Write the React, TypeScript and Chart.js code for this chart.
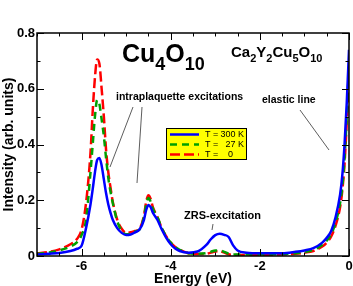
import React, { useEffect, useRef } from 'react';
import { Chart, registerables } from 'chart.js';
Chart.register(...registerables);

const energy = [-7, -6.75, -6.5, -6.25, -6.1, -6.0, -5.9, -5.8, -5.75, -5.7, -5.65, -5.6, -5.55, -5.5, -5.45, -5.4, -5.35, -5.3, -5.2, -5.1, -5.0, -4.9, -4.8, -4.7, -4.6, -4.55, -4.5, -4.45, -4.4, -4.3, -4.2, -4.1, -4.0, -3.9, -3.8, -3.6, -3.4, -3.2, -3.1, -3.0, -2.9, -2.8, -2.7, -2.6, -2.5, -2.3, -2.0, -1.5, -1.2, -1.0, -0.8, -0.6, -0.5, -0.4, -0.3, -0.2, -0.15, -0.1, -0.05, 0];

const t300 = [0.005, 0.008, 0.011, 0.018, 0.026, 0.037, 0.1, 0.185, 0.24, 0.3, 0.345, 0.352, 0.325, 0.275, 0.225, 0.185, 0.155, 0.13, 0.1, 0.083, 0.075, 0.077, 0.085, 0.095, 0.13, 0.165, 0.183, 0.175, 0.155, 0.13, 0.095, 0.065, 0.042, 0.027, 0.018, 0.012, 0.016, 0.04, 0.06, 0.075, 0.08, 0.076, 0.068, 0.038, 0.02, 0.012, 0.01, 0.01, 0.015, 0.02, 0.028, 0.048, 0.065, 0.09, 0.14, 0.22, 0.29, 0.4, 0.55, 0.74];

const t27 = [0.008, 0.012, 0.02, 0.034, 0.05, 0.075, 0.13, 0.3, 0.4, 0.5, 0.56, 0.545, 0.49, 0.43, 0.35, 0.28, 0.23, 0.19, 0.125, 0.09, 0.078, 0.08, 0.088, 0.095, 0.14, 0.185, 0.208, 0.195, 0.17, 0.14, 0.1, 0.07, 0.048, 0.032, 0.022, 0.01, 0.008, 0.01, 0.015, 0.02, 0.02, 0.015, 0.008, 0.005, 0.005, 0.005, 0.005, 0.007, 0.01, 0.014, 0.022, 0.04, 0.055, 0.078, 0.12, 0.19, 0.25, 0.35, 0.5, 0.68];

const t0 = [0.01, 0.014, 0.024, 0.042, 0.062, 0.095, 0.19, 0.37, 0.52, 0.64, 0.705, 0.69, 0.6, 0.5, 0.38, 0.3, 0.245, 0.195, 0.13, 0.098, 0.083, 0.085, 0.09, 0.098, 0.145, 0.195, 0.218, 0.205, 0.175, 0.14, 0.1, 0.07, 0.048, 0.032, 0.022, 0.01, 0.007, 0.008, 0.012, 0.016, 0.017, 0.012, 0.006, 0.004, 0.004, 0.004, 0.004, 0.006, 0.008, 0.012, 0.018, 0.034, 0.048, 0.07, 0.11, 0.175, 0.235, 0.33, 0.48, 0.66];

const seriesLabels = ['T = 300 K', 'T =   27 K', 'T =    0'];
const legendValues = ['300', '27', '0'];
const legendUnits = ['K', 'K', ''];
const xTickLabels = [-6, -4, -2, 0];
const yTickLabels = [0, 0.2, 0.4, 0.6, 0.8];
const xTitle = 'Energy (eV)';
const yTitle = 'Intensity (arb. units)';

const FONT = '"Liberation Sans", Arial, Helvetica, sans-serif';

type Part = { t: string; sub?: boolean };

function drawRich(ctx: CanvasRenderingContext2D, parts: Part[], x: number, y: number, size: number, subSize: number, subDrop: number) {
  let cx = x;
  ctx.textAlign = 'left';
  ctx.textBaseline = 'alphabetic';
  for (const p of parts) {
    ctx.font = `bold ${p.sub ? subSize : size}px ${FONT}`;
    ctx.fillText(p.t, cx, p.sub ? y + subDrop : y);
    cx += ctx.measureText(p.t).width;
  }
}

const overlay = {
  id: 'overlay',
  afterDraw(chart: any) {
    const { ctx, chartArea: a, scales } = chart;
    const x = scales.x;
    const y = scales.y;
    const X = (v: number) => x.getPixelForValue(v);
    const Y = (v: number) => y.getPixelForValue(v);
    ctx.save();
    // frame
    ctx.strokeStyle = '#000';
    ctx.lineWidth = 1.5;
    ctx.strokeRect(a.left, a.top, a.right - a.left, a.bottom - a.top);
    // ticks
    ctx.lineWidth = 1;
    ctx.beginPath();
    for (let i = -14; i <= 0; i++) {
      const px = Math.round(X(i / 2)) + 0.5;
      const len = i % 4 === 0 ? 7 : 3.5;
      ctx.moveTo(px, a.bottom); ctx.lineTo(px, a.bottom - len);
      ctx.moveTo(px, a.top); ctx.lineTo(px, a.top + len);
    }
    for (let i = 0; i <= 8; i++) {
      const py = Math.round(Y(i / 10)) + 0.5;
      const len = i % 2 === 0 ? 7 : 3.5;
      ctx.moveTo(a.left, py); ctx.lineTo(a.left + len, py);
      ctx.moveTo(a.right, py); ctx.lineTo(a.right - len, py);
    }
    ctx.stroke();

    // tick labels
    ctx.fillStyle = '#000';
    ctx.font = `bold 13px ${FONT}`;
    ctx.textAlign = 'center';
    ctx.textBaseline = 'middle';
    for (const v of xTickLabels) ctx.fillText(String(v), X(v), a.bottom + 10);
    ctx.textAlign = 'right';
    for (const v of yTickLabels) ctx.fillText(String(v), a.left - 2, Y(v));
    // axis titles
    ctx.font = `bold 14px ${FONT}`;
    ctx.textAlign = 'center';
    ctx.fillText(xTitle, (a.left + a.right) / 2, a.bottom + 23);
    ctx.save();
    ctx.translate(9, (a.top + a.bottom) / 2);
    ctx.rotate(-Math.PI / 2);
    ctx.fillText(yTitle, 0, 0);
    ctx.restore();

    // annotation lines
    ctx.strokeStyle = '#333';
    ctx.lineWidth = 0.8;
    ctx.beginPath();
    ctx.moveTo(a.left + 96, a.top + 74); ctx.lineTo(a.left + 73, a.top + 134);
    ctx.moveTo(a.left + 105, a.top + 74); ctx.lineTo(a.left + 100, a.top + 150);
    ctx.moveTo(a.left + 263, a.top + 77); ctx.lineTo(a.left + 292, a.top + 117);
    ctx.moveTo(a.left + 176, a.top + 191); ctx.lineTo(a.left + 175, a.top + 197);
    ctx.stroke();

    // texts
    ctx.fillStyle = '#000';
    drawRich(ctx, [{ t: 'Cu' }, { t: '4', sub: true }, { t: 'O' }, { t: '10', sub: true }], a.left + 85, a.top + 29, 25, 18, 8);
    drawRich(ctx, [{ t: 'Ca' }, { t: '2', sub: true }, { t: 'Y' }, { t: '2', sub: true }, { t: 'Cu' }, { t: '5', sub: true }, { t: 'O' }, { t: '10', sub: true }], a.left + 194, a.top + 24, 15, 11, 5);
    ctx.font = `bold 10.5px ${FONT}`;
    ctx.fillText('intraplaquette excitations', a.left + 79, a.top + 67);
    ctx.fillText('elastic line', a.left + 225, a.top + 70);
    ctx.font = `bold 11px ${FONT}`;
    ctx.fillText('ZRS-excitation', a.left + 147, a.top + 186);

    // legend box
    const bx = a.left + 129, by = a.top + 95, bw = 80, bh = 31;
    ctx.fillStyle = '#ffff00';
    ctx.fillRect(bx, by, bw, bh);
    ctx.strokeStyle = '#000';
    ctx.lineWidth = 1;
    ctx.strokeRect(bx + 0.5, by + 0.5, bw, bh);
    const ds = chart.data.datasets;
    for (let i = 0; i < ds.length; i++) {
      const ry = by + 6.5 + i * 10;
      ctx.strokeStyle = ds[i].borderColor;
      ctx.lineWidth = 2.5;
      ctx.setLineDash(ds[i].borderDash || []);
      ctx.beginPath();
      ctx.moveTo(bx + 4, ry); ctx.lineTo(bx + 33, ry);
      ctx.stroke();
      ctx.setLineDash([]);
      ctx.fillStyle = '#000';
      ctx.font = `9px ${FONT}`;
      ctx.textBaseline = 'middle';
      ctx.textAlign = 'left';
      ctx.fillText('T =', bx + 39, ry);
      ctx.textAlign = 'right';
      ctx.fillText(legendValues[i], bx + (i === 2 ? 67 : 69.5), ry);
      ctx.textAlign = 'left';
      if (legendUnits[i]) ctx.fillText(legendUnits[i], bx + 72, ry);
    }
    ctx.restore();
  },
};

export default function App() {
  const ref = useRef<HTMLCanvasElement>(null);
  useEffect(() => {
    document.body.style.margin = '0';
    const mk = (vals: number[]) => energy.map((e, i) => ({ x: e, y: vals[i] }));
    const chart = new Chart(ref.current!, {
      type: 'line',
      data: {
        datasets: [
          { label: seriesLabels[0], data: mk(t300), borderColor: '#0000ff', borderWidth: 2.5, pointRadius: 0, cubicInterpolationMode: 'monotone', fill: false },
          { label: seriesLabels[1], data: mk(t27), borderColor: '#00a000', borderWidth: 2.5, borderDash: [7, 5], pointRadius: 0, cubicInterpolationMode: 'monotone', fill: false },
          { label: seriesLabels[2], data: mk(t0), borderColor: '#ff0000', borderWidth: 2.5, borderDash: [10, 4], pointRadius: 0, cubicInterpolationMode: 'monotone', fill: false },
        ],
      },
      options: {
        responsive: false,
        animation: false,
        layout: { padding: { top: 33, right: 4, left: 0, bottom: 0 } },
        plugins: { legend: { display: false }, tooltip: { enabled: false } },
        scales: {
          x: {
            type: 'linear', min: -7, max: 0,
            grid: { display: false },
            border: { display: false },
            ticks: { display: false },
            afterFit: (s: any) => { s.height = 30; },
          },
          y: {
            min: 0, max: 0.8,
            grid: { display: false },
            border: { display: false },
            ticks: { display: false },
            afterFit: (s: any) => { s.width = 37; },
          },
        },
      },
      plugins: [overlay],
    } as any);
    return () => chart.destroy();
  }, []);
  return (
    <div style={{ width: 353, height: 286, background: '#fff' }}>
      <canvas ref={ref} width={353} height={286} />
    </div>
  );
}
